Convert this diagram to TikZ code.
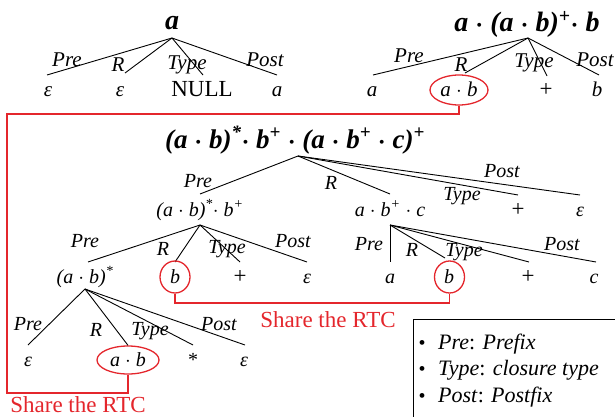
\documentclass[tikz,border=0pt]{standalone}
\usepackage{fontspec}
\setmainfont{Liberation Serif}
\usetikzlibrary{shapes.geometric}
\definecolor{rtcred}{RGB}{228,38,44}
\newcommand{\md}{\nobreakspace$\cdot$\nobreakspace}
\newcommand{\sps}[1]{\textsuperscript{#1}}
\newcommand{\eps}{ε}
\begin{document}
\begin{tikzpicture}[x=1pt,y=-1pt,
  bigroot/.style={font=\fontsize{28}{28}\selectfont\bfseries\itshape\boldmath, inner sep=0, anchor=base},
  midroot/.style={font=\fontsize{27}{27}\selectfont\bfseries\itshape\boldmath, inner sep=0, anchor=base},
  lblA/.style={font=\fontsize{21}{21}\selectfont\itshape, inner sep=0, anchor=base},
  lblB/.style={font=\fontsize{20}{20}\selectfont\itshape, inner sep=0, anchor=base},
  upr/.style={font=\fontsize{23}{23}\selectfont\upshape},
  edge/.style={line width=0.9pt},
  rtc/.style={draw=rtcred, line width=1.3pt},
  rtctext/.style={font=\fontsize{23}{23}\selectfont, text=rtcred, inner sep=0, anchor=base},
  legtext/.style={font=\fontsize{22}{22}\selectfont, inner sep=0, anchor=base west},
  bul/.style={font=\fontsize{20}{20}\selectfont, inner sep=0, anchor=base}
]
\useasboundingbox (0,0) rectangle (615,417);
\clip (0,0) rectangle (615,417);

% ---------------- Tree 1 ----------------
\node[bigroot] (r1) at (172,30) {a};
\coordinate (r1a) at (172,38);
\coordinate (r1e1) at (47,75);
\coordinate (r1e2) at (125,73);
\coordinate (r1e3) at (203,75);
\coordinate (r1e4) at (277,75);
\foreach \e in {r1e1,r1e2,r1e3,r1e4} \draw[edge] (r1a) -- (\e);
\node[lblA] (r1l1) at (67,67) {Pre};
\node[lblA] (r1l2) at (118,72) {R};
\node[lblA] (r1l3) at (187,70) {Type};
\node[lblA] (r1l4) at (265,67) {Post};
\node[lblA] (r1c1) at (48,97) {\eps};
\node[lblA] (r1c2) at (120,97) {\eps};
\node[lblA, upr] (r1c3) at (202,97) {NULL};
\node[lblA] (r1c4) at (277,97) {a};

% ---------------- Tree 2 ----------------
\node[bigroot] (r2) at (527,32) {a\md(a\md b)\sps{+}$\cdot$\nobreakspace b};
\coordinate (r2a) at (528,38);
\coordinate (r2e1) at (373,75);
\coordinate (r2e2) at (465,73);
\coordinate (r2e3) at (547,76);
\coordinate (r2e4) at (599,75);
\foreach \e in {r2e1,r2e2,r2e3,r2e4} \draw[edge] (r2a) -- (\e);
\node[lblA] (r2l1) at (409,63) {Pre};
\node[lblA] (r2l2) at (461,72) {R};
\node[lblA] (r2l3) at (534,68) {Type};
\node[lblA] (r2l4) at (595,67) {Post};
\node[lblA] (r2c1) at (372,97) {a};
\node[lblA] (r2c2) at (459,97) {a\md b};
\node[lblA, upr] (r2c3) at (546,97) {+};
\node[lblA] (r2c4) at (597,97) {b};
\node[ellipse, rtc, minimum width=58pt, minimum height=30pt, inner sep=0] (e1) at (459,90) {};

% ---------------- Tree 3 ----------------
\node[midroot] (r3) at (295,148) {(a\md b)\sps{*}$\cdot$\nobreakspace b\sps{+}\md(a\md b\sps{+}\md c)\sps{+}};
\coordinate (r3a) at (298,156);
\coordinate (r3e1) at (200,194);
\coordinate (r3e2) at (390,194);
\coordinate (r3e3) at (518,195);
\coordinate (r3e4) at (580,195);
\foreach \e in {r3e1,r3e2,r3e3,r3e4} \draw[edge] (r3a) -- (\e);
\node[lblB] (r3l1) at (198,187) {Pre};
\node[lblB] (r3l2) at (331,189) {R};
\node[lblB] (r3l3) at (462,200) {Type};
\node[lblB] (r3l4) at (502,177) {Post};
\node[lblB] (r3c1) at (200,216) {(a\md b)\sps{*}$\cdot$\nobreakspace b\sps{+}};
\node[lblB] (r3c2) at (390,216) {a\md b\sps{+}\md c};
\node[lblB, upr] (r3c3) at (518,216) {+};
\node[lblB] (r3c4) at (580,216) {\eps};

% subtree A
\coordinate (sAa) at (200,225);
\coordinate (sAe1) at (88,262);
\coordinate (sAe2) at (175,262);
\coordinate (sAe3) at (240,262);
\coordinate (sAe4) at (307,262);
\foreach \e in {sAe1,sAe2,sAe3,sAe4} \draw[edge] (sAa) -- (\e);
\node[lblB] (sAl1) at (85,247) {Pre};
\node[lblB] (sAl2) at (163,255) {R};
\node[lblB] (sAl3) at (227,253) {Type};
\node[lblB] (sAl4) at (293,247) {Post};
\node[lblB] (sAc1) at (85,283) {(a\md b)\sps{*}};
\node[lblB] (sAc2) at (175,283) {b};
\node[lblB, upr] (sAc3) at (240,283) {+};
\node[lblB] (sAc4) at (307,283) {\eps};
\node[ellipse, rtc, minimum width=30pt, minimum height=32pt, inner sep=0] (e2) at (175,277) {};

% subtree B
\coordinate (sBa) at (390,225);
\coordinate (sBe1) at (390,262);
\coordinate (sBe2) at (445,258);
\coordinate (sBe3) at (529,262);
\coordinate (sBe4) at (596,262);
\foreach \e in {sBe1,sBe2,sBe3,sBe4} \draw[edge] (sBa) -- (\e);
\node[lblB] (sBl1) at (369,250) {Pre};
\node[lblB] (sBl2) at (412,256) {R};
\node[lblB] (sBl3) at (464,256) {Type};
\node[lblB] (sBl4) at (562,250) {Post};
\node[lblB] (sBc1) at (390,283) {a};
\node[lblB] (sBc2) at (449,283) {b};
\node[lblB, upr] (sBc3) at (528,283) {+};
\node[lblB] (sBc4) at (594,283) {c};
\node[ellipse, rtc, minimum width=30pt, minimum height=32pt, inner sep=0] (e3) at (449.5,277) {};

% subtree C
\coordinate (sCa) at (85,289);
\coordinate (sCe1) at (28,345);
\coordinate (sCe3) at (193,345);
\coordinate (sCe4) at (245,345);
\node[lblB] (sCl1) at (28,330) {Pre};
\node[lblB] (sCl2) at (96,336) {R};
\node[lblB] (sCl3) at (150,335) {Type};
\node[lblB] (sCl4) at (219,330) {Post};
\node[lblB] (sCc1) at (28,366) {\eps};
\node[lblB] (sCc2) at (128,366) {a\md b};
\node[lblB, font=\fontsize{20}{20}\selectfont\upshape] (sCc3) at (193,366) {*};
\node[lblB] (sCc4) at (244,366) {\eps};
\node[ellipse, rtc, minimum width=62pt, minimum height=28pt, inner sep=0] (e4) at (128,360) {};
\draw[edge] (sCa) -- (sCe1);
\draw[edge] (sCa) -- (e4.north);
\draw[edge] (sCa) -- (sCe3);
\draw[edge] (sCa) -- (sCe4);

% red connectors
\coordinate (k1) at (459,114);
\coordinate (k2) at (7,114);
\coordinate (k3) at (7,393);
\coordinate (k4) at (128,393);
\draw[rtc] (e1.south) -- (k1) -- (k2) -- (k3) -- (k4) -- (e4.south);
\coordinate (m1) at (175,303);
\coordinate (m2) at (449.5,303);
\draw[rtc] (e2.south) -- (m1) -- (m2) -- (e3.south);
\node[rtctext] (s1) at (328,327) {Share the RTC};
\node[rtctext] (s2) at (78,412) {Share the RTC};

% legend
\node[draw, line width=1.2pt, minimum width=230pt, minimum height=120pt, anchor=north west, inner sep=0] (leg) at (413,319) {};
\node[bul] (b1) at (422,349) {\textbullet};
\node[bul] (b2) at (422,375) {\textbullet};
\node[bul] (b3) at (422,402) {\textbullet};
\node[legtext] (t1) at (438,349) {\textit{Pre}: \textit{Prefix}};
\node[legtext] (t2) at (438,375) {\textit{Type}: \textit{closure type}};
\node[legtext] (t3) at (438,402) {\textit{Post}: \textit{Postfix}};
\end{tikzpicture}
\end{document}
